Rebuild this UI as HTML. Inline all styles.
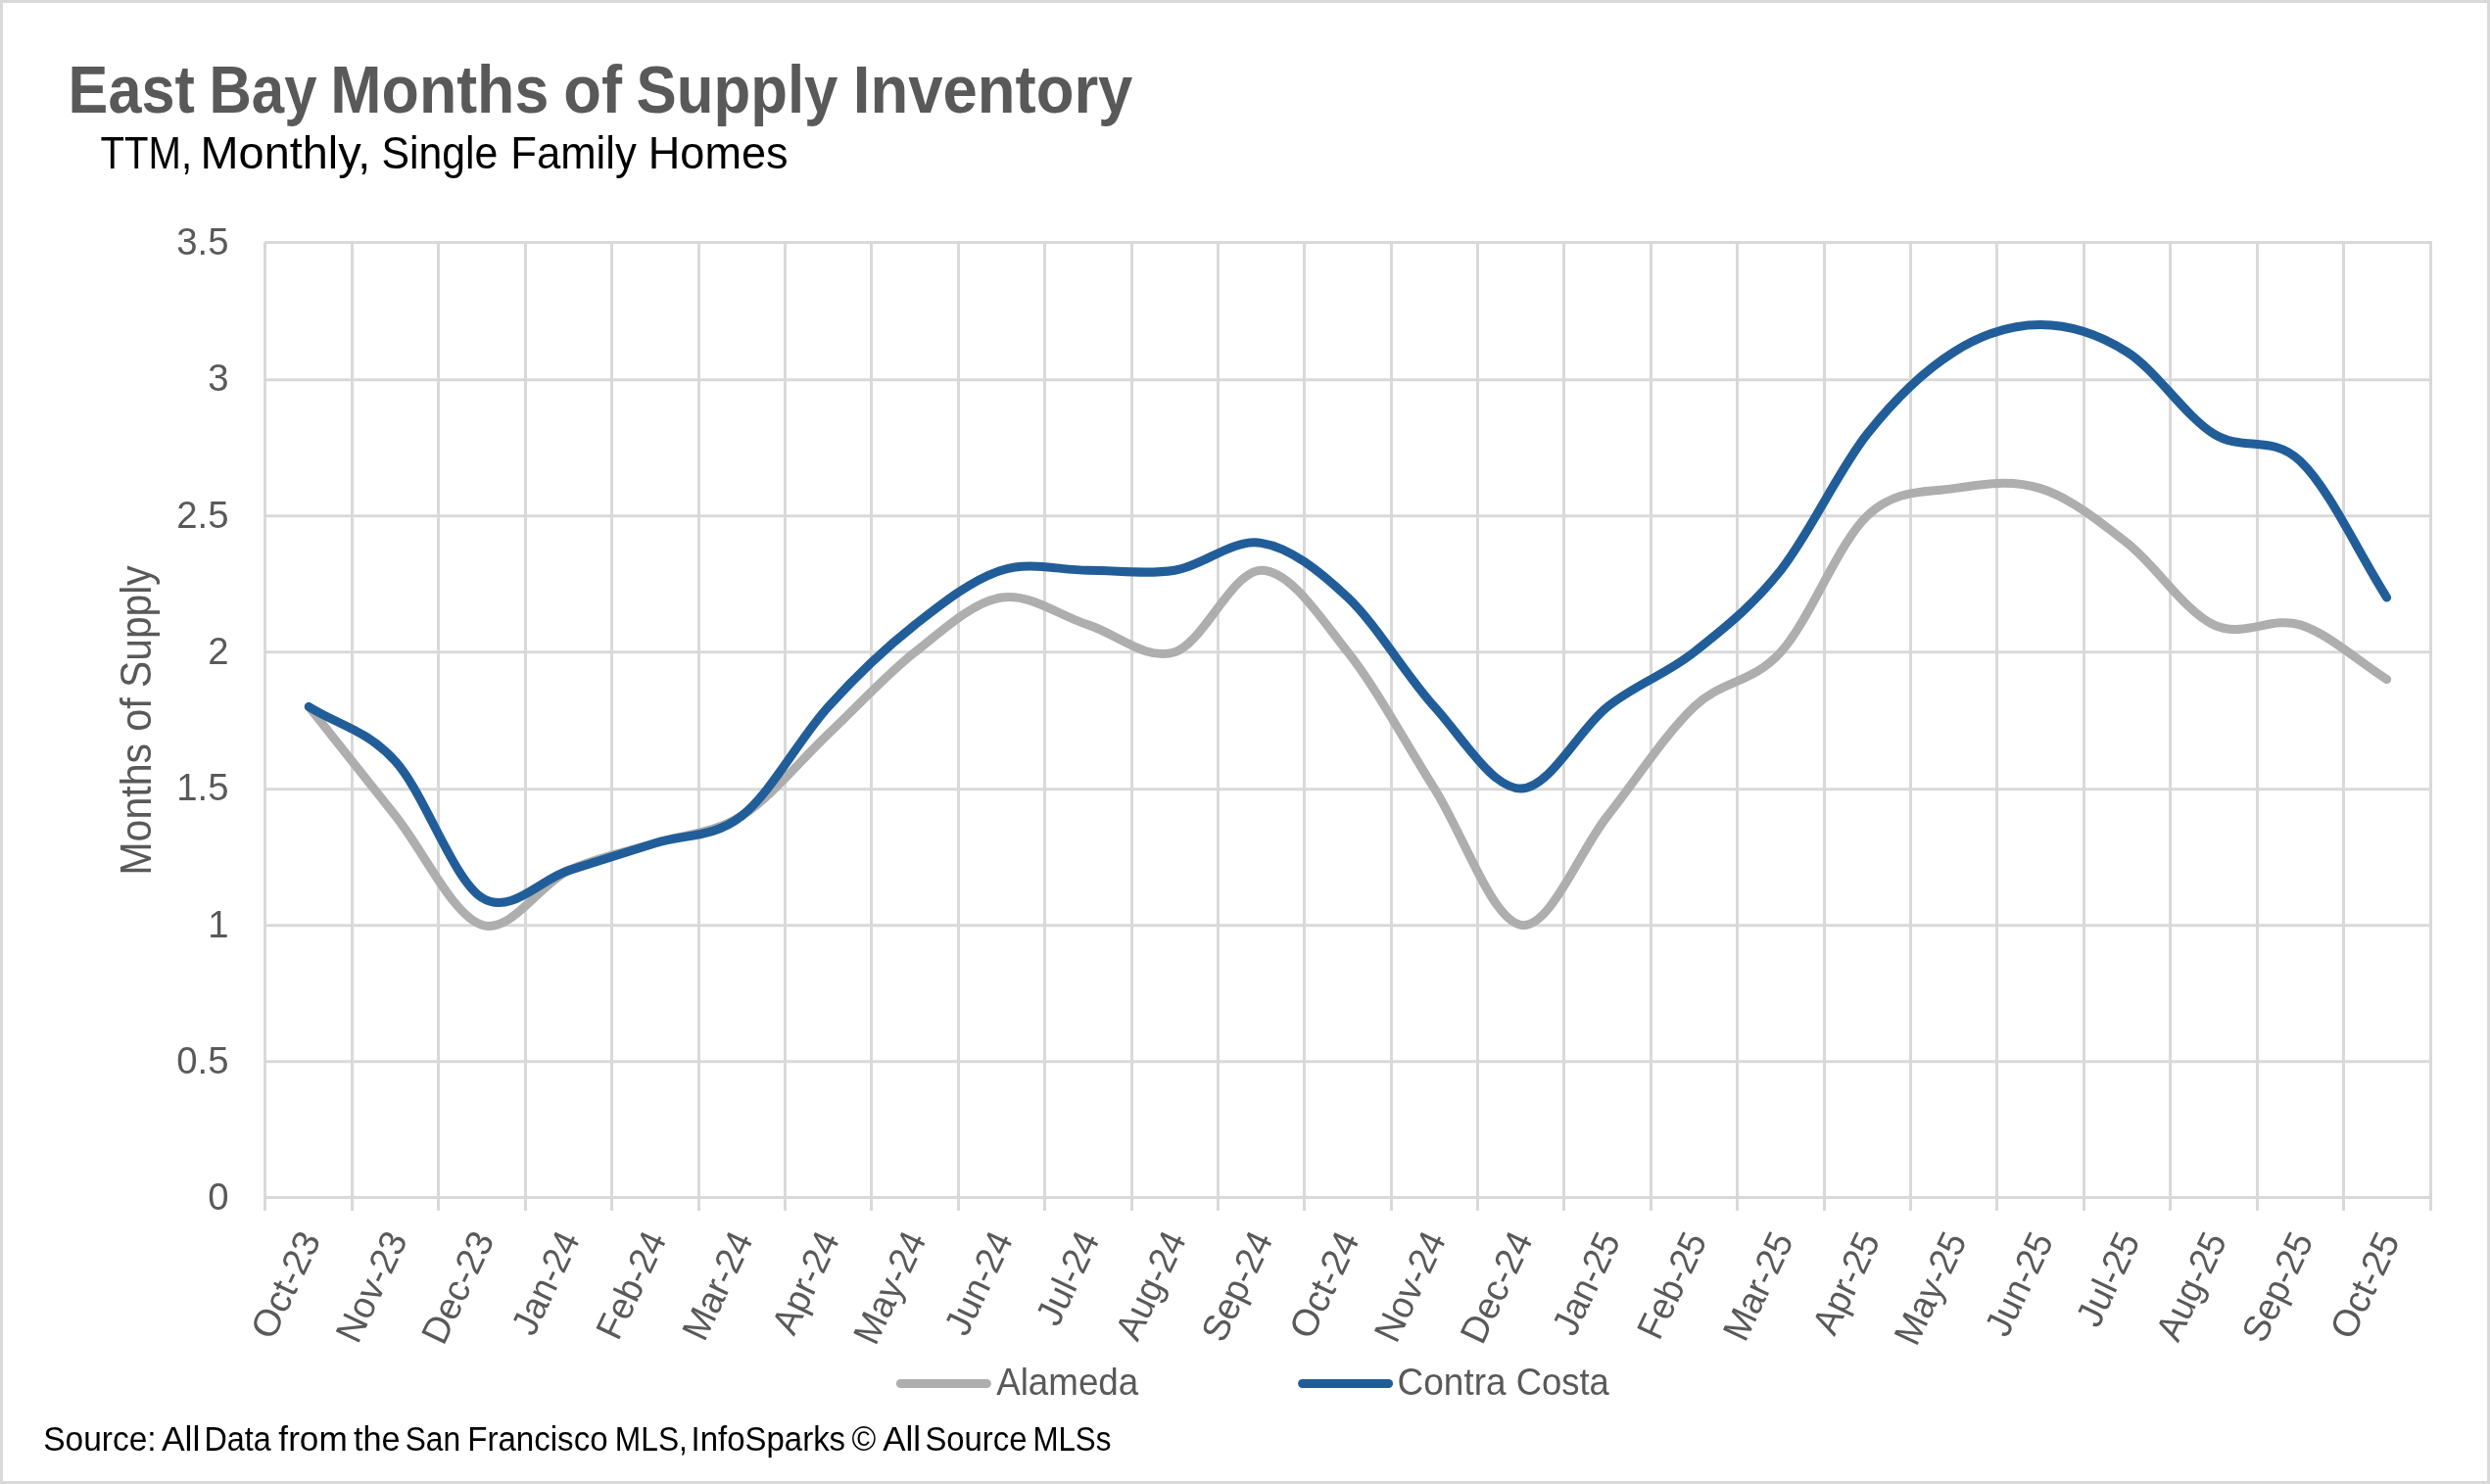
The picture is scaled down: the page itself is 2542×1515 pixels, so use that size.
<!DOCTYPE html>
<html lang="en"><head><meta charset="utf-8"><title>East Bay Months of Supply Inventory</title>
<style>html,body{margin:0;padding:0;background:#fff;}body{width:2542px;height:1515px;overflow:hidden;}svg{display:block;will-change:transform;}text{font-family:'Liberation Sans', sans-serif;}</style></head><body>
<svg width="2542" height="1515" viewBox="0 0 2542 1515">
<rect x="0" y="0" width="2542" height="1515" fill="#FFFFFF"/>
<rect x="1.5" y="1.5" width="2539" height="1512" fill="none" stroke="#D9D9D9" stroke-width="3"/>
<g stroke="#D9D9D9" stroke-width="3" fill="none" stroke-linecap="butt"><line x1="269" y1="1222.50" x2="2483" y2="1222.50"/><line x1="269" y1="1083.85" x2="2483" y2="1083.85"/><line x1="269" y1="944.85" x2="2483" y2="944.85"/><line x1="269" y1="805.85" x2="2483" y2="805.85"/><line x1="269" y1="665.85" x2="2483" y2="665.85"/><line x1="269" y1="526.85" x2="2483" y2="526.85"/><line x1="269" y1="387.85" x2="2483" y2="387.85"/><line x1="270.5" y1="247.50" x2="2483" y2="247.50"/><line x1="270.50" y1="247.5" x2="270.50" y2="1236"/><line x1="359.50" y1="246" x2="359.50" y2="1236"/><line x1="447.50" y1="246" x2="447.50" y2="1236"/><line x1="536.50" y1="246" x2="536.50" y2="1236"/><line x1="624.50" y1="246" x2="624.50" y2="1236"/><line x1="713.50" y1="246" x2="713.50" y2="1236"/><line x1="801.50" y1="246" x2="801.50" y2="1236"/><line x1="889.50" y1="246" x2="889.50" y2="1236"/><line x1="978.50" y1="246" x2="978.50" y2="1236"/><line x1="1066.50" y1="246" x2="1066.50" y2="1236"/><line x1="1155.50" y1="246" x2="1155.50" y2="1236"/><line x1="1243.50" y1="246" x2="1243.50" y2="1236"/><line x1="1331.50" y1="246" x2="1331.50" y2="1236"/><line x1="1420.50" y1="246" x2="1420.50" y2="1236"/><line x1="1508.50" y1="246" x2="1508.50" y2="1236"/><line x1="1596.50" y1="246" x2="1596.50" y2="1236"/><line x1="1685.50" y1="246" x2="1685.50" y2="1236"/><line x1="1773.50" y1="246" x2="1773.50" y2="1236"/><line x1="1862.50" y1="246" x2="1862.50" y2="1236"/><line x1="1950.50" y1="246" x2="1950.50" y2="1236"/><line x1="2038.50" y1="246" x2="2038.50" y2="1236"/><line x1="2127.50" y1="246" x2="2127.50" y2="1236"/><line x1="2215.50" y1="246" x2="2215.50" y2="1236"/><line x1="2304.50" y1="246" x2="2304.50" y2="1236"/><line x1="2392.50" y1="246" x2="2392.50" y2="1236"/><line x1="2481.50" y1="246" x2="2481.50" y2="1236"/></g><polygon points="269,247.5 270.5,246 270.5,247.5" fill="#D9D9D9"/>
<path d="M315.30,721.47 C344.76,758.61 374.22,795.76 403.69,832.90 C433.15,870.04 462.61,935.04 492.08,944.33 C521.54,953.61 551.00,902.54 580.47,888.61 C609.93,874.69 639.39,870.04 668.86,860.76 C698.32,851.47 727.78,851.47 757.25,832.90 C786.71,814.33 816.17,777.19 845.63,749.33 C875.10,721.47 904.56,688.97 934.02,665.76 C963.49,642.54 992.95,614.69 1022.42,610.04 C1051.88,605.40 1081.34,628.61 1110.81,637.90 C1140.27,647.19 1169.73,675.04 1199.20,665.76 C1228.66,656.47 1258.12,582.19 1287.59,582.19 C1317.05,582.19 1346.51,628.61 1375.97,665.76 C1405.44,702.90 1434.90,758.61 1464.37,805.04 C1493.83,851.47 1523.29,939.69 1552.76,944.33 C1582.22,948.97 1611.68,870.04 1641.14,832.90 C1670.61,795.76 1700.07,749.33 1729.53,721.47 C1759.00,693.61 1788.46,698.26 1817.93,665.76 C1847.39,633.26 1876.85,554.33 1906.32,526.47 C1935.78,498.61 1965.24,503.26 1994.70,498.61 C2024.17,493.97 2053.63,489.33 2083.10,498.61 C2112.56,507.90 2142.02,531.11 2171.49,554.33 C2200.95,577.54 2230.41,623.97 2259.88,637.90 C2289.34,651.83 2318.80,628.61 2348.26,637.90 C2377.73,647.19 2407.19,675.04 2436.65,693.61" fill="none" stroke="#AEAEAE" stroke-width="9.0" stroke-linecap="round" stroke-linejoin="round"/>
<path d="M315.30,721.47 C344.76,740.04 374.22,744.69 403.69,777.19 C433.15,809.69 462.61,897.90 492.08,916.47 C521.54,935.04 551.00,897.90 580.47,888.61 C609.93,879.33 639.39,870.04 668.86,860.76 C698.32,851.47 727.78,856.11 757.25,832.90 C786.71,809.69 816.17,753.97 845.63,721.47 C875.10,688.97 904.56,661.11 934.02,637.90 C963.49,614.69 992.95,591.47 1022.42,582.19 C1051.88,572.90 1081.34,582.19 1110.81,582.19 C1140.27,582.19 1169.73,586.83 1199.20,582.19 C1228.66,577.54 1258.12,549.69 1287.59,554.33 C1317.05,558.97 1346.51,582.19 1375.97,610.04 C1405.44,637.90 1434.90,688.97 1464.37,721.47 C1493.83,753.97 1523.29,805.04 1552.76,805.04 C1582.22,805.04 1611.68,744.69 1641.14,721.47 C1670.61,698.26 1700.07,688.97 1729.53,665.76 C1759.00,642.54 1788.46,619.33 1817.93,582.19 C1847.39,545.04 1876.85,480.04 1906.32,442.90 C1935.78,405.76 1965.24,377.90 1994.70,359.33 C2024.17,340.76 2053.63,331.47 2083.10,331.47 C2112.56,331.47 2142.02,340.76 2171.49,359.33 C2200.95,377.90 2230.41,424.33 2259.88,442.90 C2289.34,461.47 2318.80,442.90 2348.26,470.76 C2377.73,498.61 2407.19,563.61 2436.65,610.04" fill="none" stroke="#215E99" stroke-width="9.0" stroke-linecap="round" stroke-linejoin="round"/>
<text y="115.20" font-size="69.2" font-weight="bold" fill="#595959"><tspan x="69.58" textLength="129.24" lengthAdjust="spacingAndGlyphs">East</tspan> <tspan x="213.47" textLength="110.05" lengthAdjust="spacingAndGlyphs">Bay</tspan> <tspan x="337.37" textLength="222.91" lengthAdjust="spacingAndGlyphs">Months</tspan> <tspan x="575.36" textLength="59.73" lengthAdjust="spacingAndGlyphs">of</tspan> <tspan x="649.51" textLength="205.96" lengthAdjust="spacingAndGlyphs">Supply</tspan> <tspan x="870.82" textLength="285.57" lengthAdjust="spacingAndGlyphs">Inventory</tspan></text>
<text y="171.80" font-size="45.5" font-weight="normal" fill="#000000"><tspan x="102.52" textLength="93.63" lengthAdjust="spacingAndGlyphs">TTM,</tspan> <tspan x="204.58" textLength="173.62" lengthAdjust="spacingAndGlyphs">Monthly,</tspan> <tspan x="389.42" textLength="118.98" lengthAdjust="spacingAndGlyphs">Single</tspan> <tspan x="521.26" textLength="128.61" lengthAdjust="spacingAndGlyphs">Family</tspan> <tspan x="661.84" textLength="142.66" lengthAdjust="spacingAndGlyphs">Homes</tspan></text>
<text x="233.50" y="1235.10" font-size="38.30" fill="#595959" text-anchor="end" font-weight="normal">0</text>
<text x="233.50" y="1095.81" font-size="38.30" fill="#595959" text-anchor="end" font-weight="normal">0.5</text>
<text x="233.50" y="956.53" font-size="38.30" fill="#595959" text-anchor="end" font-weight="normal">1</text>
<text x="233.50" y="817.24" font-size="38.30" fill="#595959" text-anchor="end" font-weight="normal">1.5</text>
<text x="233.50" y="677.96" font-size="38.30" fill="#595959" text-anchor="end" font-weight="normal">2</text>
<text x="233.50" y="538.67" font-size="38.30" fill="#595959" text-anchor="end" font-weight="normal">2.5</text>
<text x="233.50" y="399.39" font-size="38.30" fill="#595959" text-anchor="end" font-weight="normal">3</text>
<text x="233.50" y="260.10" font-size="38.30" fill="#595959" text-anchor="end" font-weight="normal">3.5</text>
<g transform="translate(153.90,889.90) rotate(-90)"><text y="0.00" font-size="44.9" font-weight="normal" fill="#595959"><tspan x="-3.66" textLength="134.57" lengthAdjust="spacingAndGlyphs">Months</tspan> <tspan x="143.15" textLength="34.64" lengthAdjust="spacingAndGlyphs">of</tspan> <tspan x="187.88" textLength="124.76" lengthAdjust="spacingAndGlyphs">Supply</tspan></text></g>
<g transform="translate(328.32,1265.10) rotate(-64.5)"><text x="0.00" y="0.00" font-size="38.30" fill="#595959" text-anchor="end" font-weight="normal" textLength="115.60" lengthAdjust="spacingAndGlyphs">Oct-23</text></g>
<g transform="translate(416.75,1265.10) rotate(-64.5)"><text x="0.00" y="0.00" font-size="38.30" fill="#595959" text-anchor="end" font-weight="normal" textLength="119.70" lengthAdjust="spacingAndGlyphs">Nov-23</text></g>
<g transform="translate(505.18,1265.10) rotate(-64.5)"><text x="0.00" y="0.00" font-size="38.30" fill="#595959" text-anchor="end" font-weight="normal" textLength="121.60" lengthAdjust="spacingAndGlyphs">Dec-23</text></g>
<g transform="translate(592.61,1265.10) rotate(-64.5)"><text x="0.00" y="0.00" font-size="38.30" fill="#595959" text-anchor="end" font-weight="normal" textLength="111.20" lengthAdjust="spacingAndGlyphs">Jan-24</text></g>
<g transform="translate(681.04,1265.10) rotate(-64.5)"><text x="0.00" y="0.00" font-size="38.30" fill="#595959" text-anchor="end" font-weight="normal" textLength="116.20" lengthAdjust="spacingAndGlyphs">Feb-24</text></g>
<g transform="translate(769.48,1265.10) rotate(-64.5)"><text x="0.00" y="0.00" font-size="38.30" fill="#595959" text-anchor="end" font-weight="normal" textLength="117.40" lengthAdjust="spacingAndGlyphs">Mar-24</text></g>
<g transform="translate(857.91,1265.10) rotate(-64.5)"><text x="0.00" y="0.00" font-size="38.30" fill="#595959" text-anchor="end" font-weight="normal" textLength="110.30" lengthAdjust="spacingAndGlyphs">Apr-24</text></g>
<g transform="translate(946.34,1265.10) rotate(-64.5)"><text x="0.00" y="0.00" font-size="38.30" fill="#595959" text-anchor="end" font-weight="normal" textLength="121.90" lengthAdjust="spacingAndGlyphs">May-24</text></g>
<g transform="translate(1034.77,1265.10) rotate(-64.5)"><text x="0.00" y="0.00" font-size="38.30" fill="#595959" text-anchor="end" font-weight="normal" textLength="111.60" lengthAdjust="spacingAndGlyphs">Jun-24</text></g>
<g transform="translate(1123.20,1265.10) rotate(-64.5)"><text x="0.00" y="0.00" font-size="38.30" fill="#595959" text-anchor="end" font-weight="normal" textLength="100.50" lengthAdjust="spacingAndGlyphs">Jul-24</text></g>
<g transform="translate(1211.64,1265.10) rotate(-64.5)"><text x="0.00" y="0.00" font-size="38.30" fill="#595959" text-anchor="end" font-weight="normal" textLength="117.00" lengthAdjust="spacingAndGlyphs">Aug-24</text></g>
<g transform="translate(1300.07,1265.10) rotate(-64.5)"><text x="0.00" y="0.00" font-size="38.30" fill="#595959" text-anchor="end" font-weight="normal" textLength="118.80" lengthAdjust="spacingAndGlyphs">Sep-24</text></g>
<g transform="translate(1388.50,1265.10) rotate(-64.5)"><text x="0.00" y="0.00" font-size="38.30" fill="#595959" text-anchor="end" font-weight="normal" textLength="115.40" lengthAdjust="spacingAndGlyphs">Oct-24</text></g>
<g transform="translate(1476.93,1265.10) rotate(-64.5)"><text x="0.00" y="0.00" font-size="38.30" fill="#595959" text-anchor="end" font-weight="normal" textLength="119.30" lengthAdjust="spacingAndGlyphs">Nov-24</text></g>
<g transform="translate(1565.36,1265.10) rotate(-64.5)"><text x="0.00" y="0.00" font-size="38.30" fill="#595959" text-anchor="end" font-weight="normal" textLength="120.90" lengthAdjust="spacingAndGlyphs">Dec-24</text></g>
<g transform="translate(1654.80,1266.10) rotate(-64.5)"><text x="0.00" y="0.00" font-size="38.30" fill="#595959" text-anchor="end" font-weight="normal" textLength="110.30" lengthAdjust="spacingAndGlyphs">Jan-25</text></g>
<g transform="translate(1743.23,1266.10) rotate(-64.5)"><text x="0.00" y="0.00" font-size="38.30" fill="#595959" text-anchor="end" font-weight="normal" textLength="114.80" lengthAdjust="spacingAndGlyphs">Feb-25</text></g>
<g transform="translate(1831.66,1266.10) rotate(-64.5)"><text x="0.00" y="0.00" font-size="38.30" fill="#595959" text-anchor="end" font-weight="normal" textLength="116.80" lengthAdjust="spacingAndGlyphs">Mar-25</text></g>
<g transform="translate(1920.09,1266.10) rotate(-64.5)"><text x="0.00" y="0.00" font-size="38.30" fill="#595959" text-anchor="end" font-weight="normal" textLength="109.70" lengthAdjust="spacingAndGlyphs">Apr-25</text></g>
<g transform="translate(2008.52,1266.10) rotate(-64.5)"><text x="0.00" y="0.00" font-size="38.30" fill="#595959" text-anchor="end" font-weight="normal" textLength="121.40" lengthAdjust="spacingAndGlyphs">May-25</text></g>
<g transform="translate(2096.96,1266.10) rotate(-64.5)"><text x="0.00" y="0.00" font-size="38.30" fill="#595959" text-anchor="end" font-weight="normal" textLength="111.40" lengthAdjust="spacingAndGlyphs">Jun-25</text></g>
<g transform="translate(2185.39,1266.10) rotate(-64.5)"><text x="0.00" y="0.00" font-size="38.30" fill="#595959" text-anchor="end" font-weight="normal" textLength="100.70" lengthAdjust="spacingAndGlyphs">Jul-25</text></g>
<g transform="translate(2273.82,1266.10) rotate(-64.5)"><text x="0.00" y="0.00" font-size="38.30" fill="#595959" text-anchor="end" font-weight="normal" textLength="116.80" lengthAdjust="spacingAndGlyphs">Aug-25</text></g>
<g transform="translate(2362.25,1266.10) rotate(-64.5)"><text x="0.00" y="0.00" font-size="38.30" fill="#595959" text-anchor="end" font-weight="normal" textLength="118.30" lengthAdjust="spacingAndGlyphs">Sep-25</text></g>
<g transform="translate(2450.68,1266.10) rotate(-64.5)"><text x="0.00" y="0.00" font-size="38.30" fill="#595959" text-anchor="end" font-weight="normal" textLength="114.70" lengthAdjust="spacingAndGlyphs">Oct-25</text></g>
<line x1="919.4" y1="1412.5" x2="1007.4" y2="1412.5" stroke="#AEAEAE" stroke-width="9" stroke-linecap="round"/>
<text y="1424.00" font-size="38.9" font-weight="normal" fill="#595959"><tspan x="1017.20" textLength="145.07" lengthAdjust="spacingAndGlyphs">Alameda</tspan></text>
<line x1="1329.6" y1="1412.5" x2="1417.6" y2="1412.5" stroke="#215E99" stroke-width="9" stroke-linecap="round"/>
<text y="1424.00" font-size="38.9" font-weight="normal" fill="#595959"><tspan x="1426.60" textLength="110.95" lengthAdjust="spacingAndGlyphs">Contra</tspan> <tspan x="1547.73" textLength="95.00" lengthAdjust="spacingAndGlyphs">Costa</tspan></text>
<text y="1480.50" font-size="34.9" font-weight="normal" fill="#000000"><tspan x="44.18" textLength="115.44" lengthAdjust="spacingAndGlyphs">Source:</tspan> <tspan x="164.90" textLength="39.54" lengthAdjust="spacingAndGlyphs">All</tspan> <tspan x="208.42" textLength="68.31" lengthAdjust="spacingAndGlyphs">Data</tspan> <tspan x="284.39" textLength="70.32" lengthAdjust="spacingAndGlyphs">from</tspan> <tspan x="361.02" textLength="47.57" lengthAdjust="spacingAndGlyphs">the</tspan> <tspan x="413.69" textLength="56.31" lengthAdjust="spacingAndGlyphs">San</tspan> <tspan x="477.26" textLength="143.31" lengthAdjust="spacingAndGlyphs">Francisco</tspan> <tspan x="627.87" textLength="74.05" lengthAdjust="spacingAndGlyphs">MLS,</tspan> <tspan x="705.57" textLength="157.53" lengthAdjust="spacingAndGlyphs">InfoSparks</tspan> <tspan x="869.44" textLength="24.75" lengthAdjust="spacingAndGlyphs">©</tspan> <tspan x="901.20" textLength="38.89" lengthAdjust="spacingAndGlyphs">All</tspan> <tspan x="944.42" textLength="104.05" lengthAdjust="spacingAndGlyphs">Source</tspan> <tspan x="1054.41" textLength="79.95" lengthAdjust="spacingAndGlyphs">MLSs</tspan></text>
</svg></body></html>
